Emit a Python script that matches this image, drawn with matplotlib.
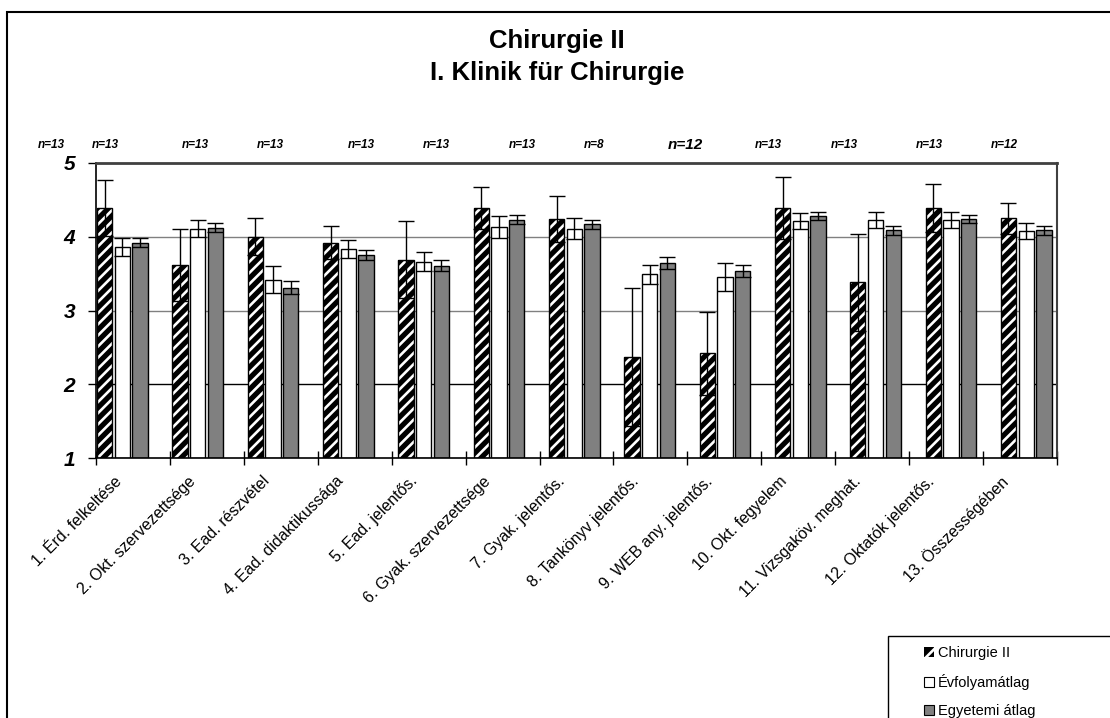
import numpy as np
import matplotlib
matplotlib.use('Agg')
import matplotlib.pyplot as plt
from matplotlib.patches import Rectangle, Patch
from matplotlib.transforms import ScaledTranslation

plt.rcParams['font.family'] = ['Liberation Sans', 'DejaVu Sans']
plt.rcParams['hatch.linewidth'] = 1.9

categories = ['1. Érd. felkeltése', '2. Okt. szervezettsége', '3. Ead. részvétel',
              '4. Ead. didaktikussága', '5. Ead. jelentős.', '6. Gyak. szervezettsége',
              '7. Gyak. jelentős.', '8. Tankönyv jelentős.', '9. WEB any. jelentős.',
              '10. Okt. fegyelem', '11. Vizsgaköv. meghat.', '12. Oktatók jelentős.',
              '13. Összességében']
chir = [4.39, 3.62, 4.00, 3.92, 3.69, 4.39, 4.24, 2.37, 2.42, 4.39, 3.38, 4.39, 4.25]
chir_err = [0.38, 0.49, 0.25, 0.22, 0.52, 0.28, 0.31, 0.94, 0.56, 0.42, 0.66, 0.33, 0.21]
evf = [3.86, 4.11, 3.42, 3.83, 3.66, 4.13, 4.11, 3.49, 3.45, 4.21, 4.23, 4.23, 4.08]
evf_err = [0.12, 0.12, 0.18, 0.12, 0.13, 0.15, 0.14, 0.13, 0.19, 0.11, 0.11, 0.11, 0.11]
egy = [3.92, 4.12, 3.31, 3.75, 3.61, 4.23, 4.17, 3.64, 3.54, 4.28, 4.09, 4.24, 4.09]
egy_err = [0.06, 0.06, 0.09, 0.07, 0.07, 0.06, 0.06, 0.08, 0.08, 0.05, 0.06, 0.05, 0.06]
n_labels = ['n=13', 'n=13', 'n=13', 'n=13', 'n=13', 'n=13', 'n=13',
            'n=8', 'n=12', 'n=13', 'n=13', 'n=13', 'n=12']
series_names = ['Chirurgie II', 'Évfolyamátlag', 'Egyetemi átlag']

W, H = 1110, 718
fig = plt.figure(figsize=(W / 100, H / 100), dpi=100)
fig.patch.set_facecolor('white')
ax = fig.add_axes([96 / W, 1 - 458 / H, 961 / W, 295 / H])

# outer frame, runs off the right/bottom edge
fig.patches.append(Rectangle((7 / W, -0.05), 1.1, 1 - 12 / H + 0.05, transform=fig.transFigure,
                             fill=False, edgecolor='black', lw=1.5, zorder=0))

n = len(categories)
tick_step = 74 / 75.4  # category ticks are a bit tighter than the bar groups
x0 = np.arange(n) + 0.013
bw, step = 0.203, 0.235
err_kw = dict(fmt='none', ecolor='black', elinewidth=1.0, capsize=6, capthick=1.0, zorder=5)

xc = x0 + bw / 2
ax.bar(xc, np.array(chir) - 1, bw, bottom=1, color='black', edgecolor='white', hatch='///', lw=0, zorder=2)
ax.bar(xc, np.array(chir) - 1, bw, bottom=1, fill=False, edgecolor='black', lw=1, zorder=3)
ax.errorbar(xc, chir, yerr=chir_err, **err_kw)

xc = x0 + step + bw / 2
ax.bar(xc, np.array(evf) - 1, bw, bottom=1, color='white', edgecolor='black', lw=1, zorder=2)
ax.errorbar(xc, evf, yerr=evf_err, **err_kw)

xc = x0 + 2 * step + bw / 2
ax.bar(xc, np.array(egy) - 1, bw, bottom=1, color='#808080', edgecolor='black', lw=1, zorder=2)
ax.errorbar(xc, egy, yerr=egy_err, **err_kw)

ax.set_xlim(0, n * tick_step)
ax.set_ylim(1, 5)

for yv, c in zip([4, 3, 2], ['#808080', '#808080', 'black']):
    ax.axhline(yv, color=c, lw=1, zorder=1)

ax.spines['top'].set_color('#404040')
ax.spines['top'].set_linewidth(2)
ax.spines['right'].set_color('#404040')
ax.spines['right'].set_linewidth(1.5)
ax.spines['left'].set_linewidth(1.2)
ax.spines['bottom'].set_linewidth(1.2)

ax.set_yticks([1, 2, 3, 4, 5])
ax.set_yticklabels(['1', '2', '3', '4', '5'], fontsize=15, fontweight='bold', fontstyle='italic')
ax.tick_params(axis='y', direction='out', length=6, width=1, pad=9)

ax.set_xticks(np.arange(n + 1) * tick_step)
ax.set_xticklabels([])
ax.tick_params(axis='x', which='major', direction='inout', length=10, width=1)
ax.set_xticks((np.arange(n) + 0.5) * tick_step, minor=True)
ax.set_xticklabels(categories, minor=True, fontsize=11.5, rotation=45,
                   ha='right', va='center', rotation_mode='anchor')
ax.tick_params(axis='x', which='minor', length=0, pad=15)
shift = ScaledTranslation(-14 / 100, 0, fig.dpi_scale_trans)
for lab in ax.get_xticklabels(minor=True):
    lab.set_transform(lab.get_transform() + shift)

fig.text(557 / W, 1 - 41 / H, 'Chirurgie II', ha='center', va='center', fontsize=18.5, fontweight='bold')
fig.text(557 / W, 1 - 73 / H, 'I. Klinik für Chirurgie', ha='center', va='center', fontsize=18.5, fontweight='bold')

n_x = [51, 105, 195, 270, 361, 436, 522, 594, 685, 768, 844, 929, 1004]
for i, (xp, lab) in enumerate(zip(n_x, n_labels)):
    fig.text(xp / W, 1 - 145 / H, lab, ha='center', va='center', fontweight='bold',
             fontstyle='italic', fontsize=11 if i == 8 else 8.5)

# legend box, cut by the figure edge like the original
fig.patches.append(Rectangle((888 / W, -0.05), 0.5, 0.05 + 1 - 636 / H, transform=fig.transFigure,
                             fill=False, edgecolor='black', lw=1, zorder=3))
h_chir = Patch(facecolor='black', edgecolor='white', hatch='//', lw=0)
h_evf = Patch(facecolor='white', edgecolor='black', lw=0.8)
h_egy = Patch(facecolor='#808080', edgecolor='black', lw=0.8)
fig.legend([h_chir, h_evf, h_egy], series_names, loc='center left',
           bbox_to_anchor=(917 / W, 1 - 682 / H), frameon=False, fontsize=10.5,
           handlelength=0.65, handleheight=0.65, handletextpad=0.3, labelspacing=0.95,
           borderpad=0)

fig.savefig('out.png', dpi=100, facecolor='white')
